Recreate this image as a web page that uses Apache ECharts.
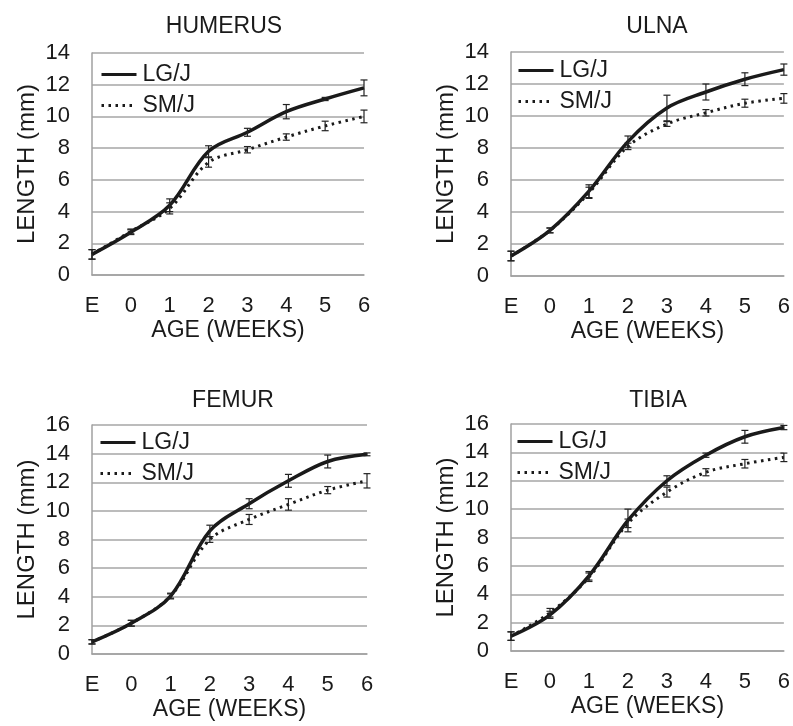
<!DOCTYPE html>
<html>
<head>
<meta charset="utf-8">
<script src="https://cdn.jsdelivr.net/npm/echarts@6/dist/echarts.min.js"></script>
<style>
  html, body { margin: 0; padding: 0; background: #fff; }
  #chart { width: 793px; height: 726px; }
</style>
</head>
<body>
<div id="chart"></div>
<script>
// 横轴分类
const ages = ['E', '0', '1', '2', '3', '4', '5', '6'];

// HUMERUS
const humerusLG = [1.3, 2.7, 4.4, 7.8, 9.0, 10.3, 11.1, 11.8];
const humerusLGErr = [0.3, 0.15, 0.4, 0.35, 0.25, 0.45, 0.1, 0.5];
const humerusSM = [1.3, 2.75, 4.2, 7.1, 7.9, 8.7, 9.4, 10.0];
const humerusSMErr = [0.3, 0.15, 0.35, 0.3, 0.2, 0.2, 0.3, 0.4];

// ULNA
const ulnaLG = [1.25, 2.85, 5.3, 8.4, 10.5, 11.5, 12.3, 12.9];
const ulnaLGErr = [0.3, 0.15, 0.4, 0.35, 0.8, 0.5, 0.4, 0.35];
const ulnaSM = [1.25, 2.85, 5.2, 8.1, 9.5, 10.2, 10.8, 11.1];
const ulnaSMErr = [0.3, 0.15, 0.35, 0.2, 0.15, 0.2, 0.25, 0.3];

// FEMUR
const femurLG = [0.85, 2.15, 4.05, 8.6, 10.5, 12.1, 13.45, 13.95];
const femurLGErr = [0.15, 0.2, 0.2, 0.4, 0.35, 0.45, 0.45, 0.1];
const femurSM = [0.85, 2.15, 4.05, 8.0, 9.4, 10.45, 11.45, 12.1];
const femurSMErr = [0.15, 0.2, 0.15, 0.2, 0.35, 0.4, 0.25, 0.5];

// TIBIA
const tibiaLG = [1.05, 2.55, 5.3, 9.2, 12.0, 13.8, 15.1, 15.75];
const tibiaLGErr = [0.3, 0.25, 0.3, 0.8, 0.35, 0.15, 0.45, 0.15];
const tibiaSM = [1.05, 2.7, 5.2, 9.0, 11.2, 12.6, 13.2, 13.65];
const tibiaSMErr = [0.3, 0.3, 0.3, 0.3, 0.35, 0.25, 0.3, 0.3];

const panels = [
  { title: 'HUMERUS', lg: humerusLG, lgErr: humerusLGErr, sm: humerusSM, smErr: humerusSMErr, max: 14,
    grid: { left: 92, top: 53, width: 272, height: 222 }, titleX: 219, titleY: 10, legend: { left: 100, top: 63 } },
  { title: 'ULNA', lg: ulnaLG, lgErr: ulnaLGErr, sm: ulnaSM, smErr: ulnaSMErr, max: 14,
    grid: { left: 511, top: 52, width: 280, height: 224 }, titleX: 652, titleY: 10, legend: { left: 517, top: 59 } },
  { title: 'FEMUR', lg: femurLG, lgErr: femurLGErr, sm: femurSM, smErr: femurSMErr, max: 16,
    grid: { left: 92, top: 425, width: 275, height: 229 }, titleX: 228, titleY: 384, legend: { left: 99, top: 431 } },
  { title: 'TIBIA', lg: tibiaLG, lgErr: tibiaLGErr, sm: tibiaSM, smErr: tibiaSMErr, max: 16,
    grid: { left: 511, top: 424, width: 280, height: 227 }, titleX: 653, titleY: 384, legend: { left: 516, top: 430 } }
];

const FONT = 'Liberation Sans, Arial, sans-serif';
const INK = '#1a1a1a';

// 误差线
function renderErr(params, api) {
  const x = api.value(0);
  const lo = api.coord([x, api.value(1)]);
  const hi = api.coord([x, api.value(2)]);
  const w = 3.5;
  const style = { stroke: '#222', lineWidth: 1.2 };
  return {
    type: 'group',
    children: [
      { type: 'line', shape: { x1: lo[0], y1: lo[1], x2: hi[0], y2: hi[1] }, style: style },
      { type: 'line', shape: { x1: lo[0] - w, y1: lo[1], x2: lo[0] + w, y2: lo[1] }, style: style },
      { type: 'line', shape: { x1: hi[0] - w, y1: hi[1], x2: hi[0] + w, y2: hi[1] }, style: style }
    ]
  };
}

function errData(mean, err) {
  return mean.map((v, i) => [i, v - err[i], v + err[i]]);
}

const option = {
  backgroundColor: '#fff',
  animation: false,
  title: [],
  legend: [],
  grid: [],
  xAxis: [],
  yAxis: [],
  series: []
};

panels.forEach((p, k) => {
  option.title.push({
    text: p.title, left: p.titleX, top: p.titleY, textAlign: 'center',
    textStyle: { fontFamily: FONT, fontSize: 23, fontWeight: 'normal', color: INK }
  });
  option.legend.push({
    data: ['LG/J', 'SM/J'], orient: 'vertical', left: p.legend.left, top: p.legend.top,
    padding: 0, itemGap: 8, itemWidth: 35, itemHeight: 22, selectedMode: false,
    itemStyle: { opacity: 0 },
    lineStyle: { width: 3 },
    textStyle: { fontFamily: FONT, fontSize: 23, color: INK, padding: [0, 0, 0, 1] }
  });
  option.grid.push(Object.assign({ containLabel: false }, p.grid));
  option.xAxis.push({
    type: 'category', gridIndex: k, data: ages, boundaryGap: false,
    name: 'AGE (WEEKS)', nameLocation: 'middle', nameGap: 44,
    nameTextStyle: { fontFamily: FONT, fontSize: 23, color: INK },
    axisLine: { lineStyle: { color: '#a0a0a0', width: 1.5 } },
    axisTick: { show: false },
    axisLabel: { fontFamily: FONT, fontSize: 22, color: INK, margin: 20 },
    splitLine: { show: false }
  });
  option.yAxis.push({
    type: 'value', gridIndex: k, min: 0, max: p.max, interval: 2,
    name: 'LENGTH (mm)', nameLocation: 'middle', nameGap: 53,
    nameTextStyle: { fontFamily: FONT, fontSize: 24, color: INK },
    axisLine: { show: true, lineStyle: { color: '#a0a0a0', width: 1.5 } },
    axisTick: { show: false },
    axisLabel: { fontFamily: FONT, fontSize: 22, color: INK, margin: 22 },
    splitLine: { lineStyle: { color: '#a6a6a6', width: 1.5 } }
  });
  option.series.push(
    {
      name: 'SM/J', type: 'line', xAxisIndex: k, yAxisIndex: k, data: p.sm,
      smooth: 0.35, symbol: 'none', z: 3,
      lineStyle: { color: INK, width: 3, type: [2.5, 4.5] },
      itemStyle: { color: INK }
    },
    {
      name: 'LG/J', type: 'line', xAxisIndex: k, yAxisIndex: k, data: p.lg,
      smooth: 0.35, symbol: 'none', z: 4,
      lineStyle: { color: INK, width: 3.5 },
      itemStyle: { color: INK }
    },
    {
      type: 'custom', xAxisIndex: k, yAxisIndex: k, renderItem: renderErr,
      data: errData(p.lg, p.lgErr), z: 5, silent: true
    },
    {
      type: 'custom', xAxisIndex: k, yAxisIndex: k, renderItem: renderErr,
      data: errData(p.sm, p.smErr), z: 5, silent: true
    }
  );
});

const myChart = echarts.init(document.getElementById('chart'), null, { renderer: 'canvas' });
myChart.setOption(option);
</script>
</body>
</html>
